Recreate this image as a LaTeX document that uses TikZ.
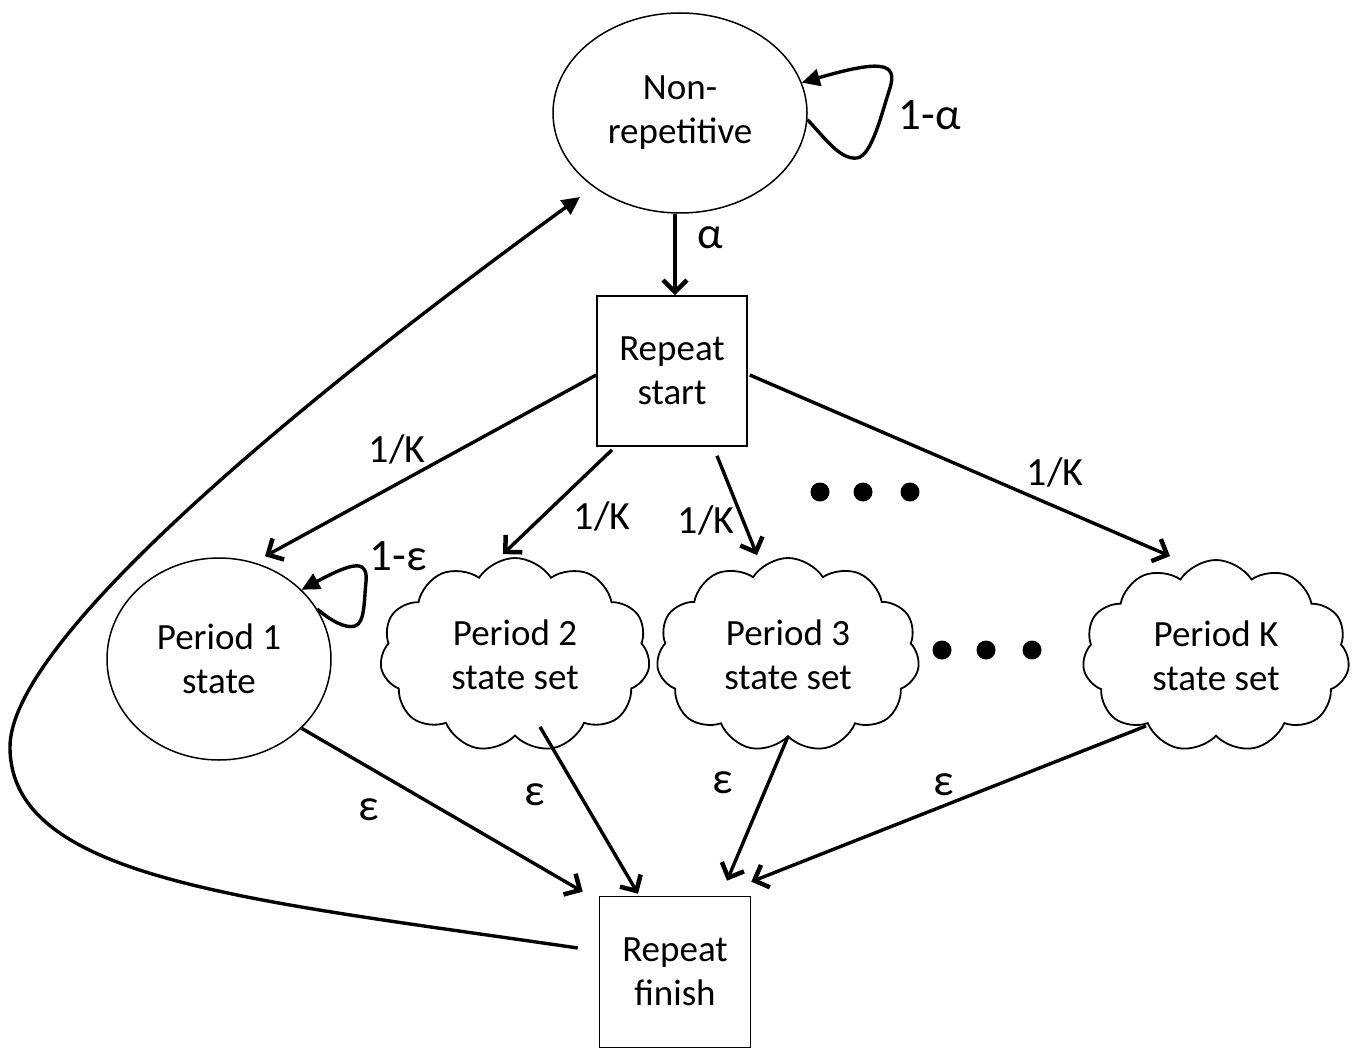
\documentclass[tikz,border=0pt]{standalone}
\usepackage{fontspec}
\setmainfont{Carlito}
\usetikzlibrary{arrows.meta,shapes.geometric,shapes.symbols,calc}
\begin{document}
\begin{tikzpicture}[x=1pt,y=-1pt,
  every node/.style={font=\fontsize{37}{44}\selectfont, align=center, inner sep=0pt},
  ell/.style={draw, ellipse, line width=1.5pt},
  box/.style={draw, rectangle, line width=1.6pt, minimum width=150pt, minimum height=150pt},
  cloudnode/.style={draw, cloud, cloud puffs=11, cloud puff arc=115, cloud ignores aspect, line width=1.8pt},
  arr/.style={line width=3.4pt, -{Straight Barb[length=12pt,width=24pt,line width=4.5pt]}},
  tri/.style={line width=3.4pt, -{Triangle[length=18pt,width=17pt]}},
  lbl/.style={font=\fontsize{40}{44}\selectfont},
  glbl/.style={font=\fontsize{45}{48}\selectfont},
  dot/.style={fill=black}
]
\fill[white] (0,0) rectangle (1362,1051);
\useasboundingbox (0,0) rectangle (1362,1051);

% nodes
\node[ell, minimum width=254pt, minimum height=200pt] (nonrep) at (680,113) {Non-\\repetitive};
\node[box] (rstart) at (672,371) {Repeat\\start};
\node[box, minimum width=151pt, minimum height=151pt] (rfin) at (675,972) {Repeat\\finish};
\node[ell, minimum width=224pt, minimum height=202pt] (p1) at (219,659) {Period 1\\state};
\node[cloudnode, minimum width=270pt, minimum height=194pt] (p2) at (515,655) {Period 2\\state set};
\node[cloudnode, minimum width=263pt, minimum height=194pt] (p3) at (788,655) {Period 3\\state set};
\node[cloudnode, minimum width=267pt, minimum height=192pt] (pK) at (1216,656) {Period K\\state set};

% non-repetitive
\draw[arr] ([xshift=-5pt]nonrep.south) -- ([xshift=3pt]rstart.north);
\node[glbl] (la) at (710,238) {α};
\draw[tri] (nonrep.-3) .. controls (825,138) and (840,160) .. (857,158)
  .. controls (872,156) and (882,112) .. (890,88)
  .. controls (898,62) and (880,60) .. (nonrep.14);
\node[glbl] (l1a) at (930,115) {1-α};

% repeat start to periods
\draw[arr] ($(rstart.west)+(0,4)$) -- ($(p1.north)+(46,-1)$);
\node[lbl] (k1) at (397,449) {1/K};
\draw[arr] ($(rstart.south)+(-60,3)$) -- ($(p2.north)+(-12,-3)$);
\node[lbl] (k2) at (602,516) {1/K};
\draw[arr] ($(rstart.south)+(45,9)$) -- ($(p3.north)+(-31,-2)$);
\node[lbl] (k3) at (706,520) {1/K};
\draw[arr] ($(rstart.east)+(2,4)$) -- ($(pK.north)+(-46,-3)$);
\node[lbl] (kK) at (1055,472) {1/K};

% period 1 self loop
\draw[tri] (p1.27) .. controls (330,620) and (345,629) .. (355,626)
  .. controls (365,623) and (364,600) .. (366,582)
  .. controls (368,560) and (355,561) .. (p1.40);
\node[glbl] (l1e) at (398,556) {1-ε};

% periods to repeat finish
\draw[arr] (p1.-40) -- ($(rfin.north west)+(-16,-4)$);
\node[glbl] (e1) at (369,810) {ε};
\draw[arr] ($(p2.south)+(25,-10)$) -- ($(rfin.north)+(-37,-2)$);
\node[glbl] (e2) at (535,795) {ε};
\draw[arr] ($(p3.south)+(0,-1)$) -- ($(rfin.north)+(52,-15)$);
\node[glbl] (e3) at (723,783) {ε};
\draw[arr] ($(pK.south)+(-70,-11)$) -- ($(rfin.north east)+(0,-14)$);
\node[glbl] (eK) at (944,785) {ε};

% return curve
\coordinate (cs) at ($(rfin.west)+(-21,-24)$);
\coordinate (ce) at (580,197);
\draw[tri] (cs) .. controls (250,900) and (10,880) .. (10,747) .. controls (10,640) and (300,400) .. (ce);

% ellipsis dots
\foreach \x in {820,863,910} \fill[dot] (\x,492) circle (9.5pt);
\foreach \x in {942,986,1032} \fill[dot] (\x,650) circle (9.5pt);
\end{tikzpicture}
\end{document}
